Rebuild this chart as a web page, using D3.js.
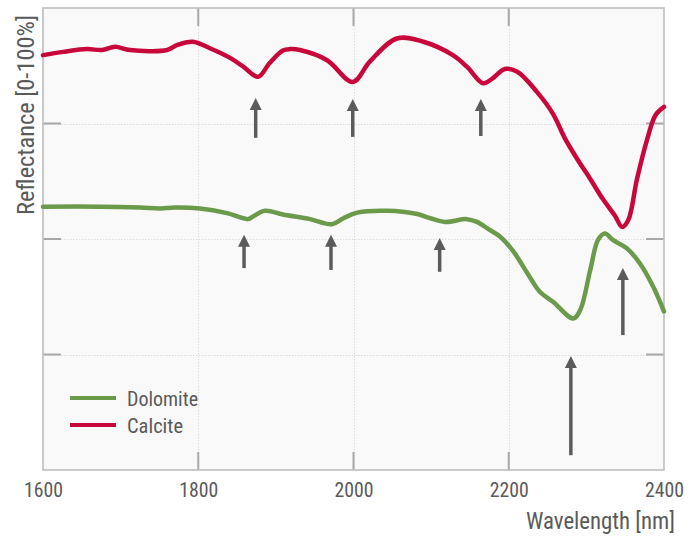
<!DOCTYPE html>
<html>
<head>
<meta charset="utf-8">
<script src="https://cdn.jsdelivr.net/npm/d3@7"></script>
<style>
  html, body { margin: 0; padding: 0; background: #fff; }
  svg text { font-family: "Roboto Condensed", "Liberation Sans Narrow", "DejaVu Sans Condensed", "Roboto", sans-serif; fill: #5a5a5a; }
</style>
</head>
<body>
<svg id="chart" width="694" height="536"></svg>
<script>
// Wavelength samples (nm) and reflectance (%) for each mineral
const calciteWl = [1600, 1626, 1657, 1676, 1693, 1712, 1760, 1773, 1793, 1815, 1841, 1858, 1877, 1892, 1909, 1918, 1931, 1966, 1999, 2021, 2056, 2090, 2128, 2146, 2167, 2178, 2195, 2211, 2236, 2257, 2272, 2289, 2305, 2321, 2337, 2346, 2354, 2365, 2378, 2389, 2400];
const calciteR  = [89.8, 90.5, 91.1, 90.9, 91.6, 90.9, 90.9, 92.0, 92.7, 91.3, 89.2, 87.3, 85.1, 88.1, 90.8, 91.1, 90.9, 88.7, 84.0, 88.4, 93.4, 92.7, 89.8, 87.3, 83.7, 84.6, 86.8, 86.2, 81.9, 77.1, 71.9, 67.1, 63.0, 58.7, 55.0, 52.6, 54.1, 62.8, 71.4, 76.8, 78.6];

const dolomiteWl = [1600, 1673, 1725, 1751, 1770, 1802, 1837, 1864, 1870, 1886, 1909, 1944, 1972, 1987, 2005, 2043, 2082, 2099, 2118, 2146, 2159, 2176, 2189, 2206, 2224, 2240, 2257, 2283, 2292, 2305, 2315, 2324, 2334, 2352, 2369, 2386, 2400];
const dolomiteR  = [57.0, 57.0, 56.8, 56.6, 56.8, 56.6, 55.6, 54.3, 54.8, 56.1, 55.3, 54.3, 53.2, 54.5, 55.7, 56.1, 55.4, 54.5, 53.7, 54.3, 53.7, 51.9, 50.5, 47.3, 42.6, 38.6, 36.4, 32.8, 34.6, 43.3, 49.8, 51.2, 49.8, 48.0, 44.7, 39.7, 34.3];

// Absorption-feature arrows: wavelength, tail and tip reflectance
const arrowWl   = [1874, 1999, 2164, 1859, 1971, 2111, 2280, 2347];
const arrowTail = [71.9, 72.1, 72.3, 43.7, 43.3, 42.9, 3.2, 29.2];
const arrowTip  = [80.5, 80.3, 80.3, 50.9, 50.9, 50.2, 24.7, 43.7];

const xTicks = [1600, 1800, 2000, 2200, 2400];
const yGrid = [25, 50, 75];

const seriesNames = ["Dolomite", "Calcite"];
const seriesColors = ["#6b9a4b", "#c8073b"];

const svg = d3.select("#chart");
const plotL = 43, plotR = 664, plotT = 8, plotB = 470;

const x = d3.scaleLinear().domain([1600, 2400]).range([plotL, plotR]);
const y = d3.scaleLinear().domain([0, 100]).range([plotB, plotT]);

// Plot background
svg.append("rect")
  .attr("x", plotL).attr("y", plotT)
  .attr("width", plotR - plotL).attr("height", plotB - plotT)
  .attr("fill", "#f9f9f9");

// Dotted grid
const grid = svg.append("g").attr("stroke", "#dcdcdc").attr("stroke-width", 1).attr("stroke-dasharray", "1.5,1.5");
grid.selectAll(".gy").data(yGrid).join("line")
  .attr("x1", plotL).attr("x2", plotR)
  .attr("y1", d => Math.round(y(d)) + 0.5).attr("y2", d => Math.round(y(d)) + 0.5);
grid.selectAll(".gx").data(xTicks.slice(1, -1)).join("line")
  .attr("y1", plotT).attr("y2", plotB)
  .attr("x1", d => Math.round(x(d)) + 0.5).attr("x2", d => Math.round(x(d)) + 0.5);

// Inner tick marks on all four sides
const tickLen = 18;
const ticks = svg.append("g").attr("stroke", "#a8a8a8").attr("stroke-width", 2);
ticks.selectAll(".tl").data(yGrid).join("line")
  .attr("x1", plotL).attr("x2", plotL + tickLen)
  .attr("y1", d => y(d)).attr("y2", d => y(d));
ticks.selectAll(".tr").data(yGrid).join("line")
  .attr("x1", plotR - tickLen).attr("x2", plotR)
  .attr("y1", d => y(d)).attr("y2", d => y(d));
ticks.selectAll(".tt").data(xTicks.slice(1, -1)).join("line")
  .attr("x1", d => x(d)).attr("x2", d => x(d))
  .attr("y1", plotT).attr("y2", plotT + tickLen);
ticks.selectAll(".tb").data(xTicks.slice(1, -1)).join("line")
  .attr("x1", d => x(d)).attr("x2", d => x(d))
  .attr("y1", plotB - tickLen).attr("y2", plotB);

// Frame
svg.append("rect")
  .attr("x", plotL).attr("y", plotT)
  .attr("width", plotR - plotL).attr("height", plotB - plotT)
  .attr("fill", "none").attr("stroke", "#bdbdbd").attr("stroke-width", 1.6);

// Bottom axis labels
const xAxis = d3.axisBottom(x).tickValues(xTicks).tickSize(0).tickPadding(12).tickFormat(d3.format("d"));
const gx = svg.append("g").attr("transform", `translate(0,${plotB})`).call(xAxis);
gx.select(".domain").remove();
gx.selectAll("text")
  .attr("font-size", 21)
  .attr("textLength", 39).attr("lengthAdjust", "spacingAndGlyphs")
  .style("fill", "#5a5a5a");

// Axis titles
svg.append("text")
  .attr("x", 675).attr("y", 529)
  .attr("text-anchor", "end")
  .attr("font-size", 23)
  .attr("textLength", 149).attr("lengthAdjust", "spacingAndGlyphs")
  .text("Wavelength [nm]");

svg.append("text")
  .attr("transform", "translate(34,115) rotate(-90)")
  .attr("text-anchor", "middle")
  .attr("font-size", 23)
  .attr("textLength", 200).attr("lengthAdjust", "spacingAndGlyphs")
  .text("Reflectance [0-100%]");

// Spectra
const line = d3.line().curve(d3.curveCatmullRom.alpha(0.5));
const series = [
  { wl: dolomiteWl, r: dolomiteR },
  { wl: calciteWl, r: calciteR }
];
series.forEach((s, i) => {
  svg.append("path")
    .attr("d", line(s.wl.map((w, k) => [x(w), y(s.r[k])])))
    .attr("fill", "none")
    .attr("stroke", seriesColors[i])
    .attr("stroke-width", 4.5)
    .attr("stroke-linejoin", "round")
    .attr("stroke-linecap", "round");
});

// Arrows marking absorption features
const arrowColor = "#5b5b5b";
const arrows = svg.append("g");
arrowWl.forEach((w, i) => {
  const ax = x(w), y0 = y(arrowTail[i]), y1 = y(arrowTip[i]);
  const headH = 12, headW = 6;
  arrows.append("line")
    .attr("x1", ax).attr("x2", ax)
    .attr("y1", y0).attr("y2", y1 + headH - 1)
    .attr("stroke", arrowColor).attr("stroke-width", 3.5);
  arrows.append("path")
    .attr("d", `M${ax},${y1} L${ax - headW},${y1 + headH} L${ax + headW},${y1 + headH} Z`)
    .attr("fill", arrowColor);
});

// Legend
const legend = svg.append("g");
const legendY = [398, 425];
seriesNames.forEach((name, i) => {
  legend.append("line")
    .attr("x1", 70).attr("x2", 116)
    .attr("y1", legendY[i]).attr("y2", legendY[i])
    .attr("stroke", seriesColors[i]).attr("stroke-width", 4);
  legend.append("text")
    .attr("x", 127).attr("y", legendY[i] + 8)
    .attr("font-size", 21)
    .attr("textLength", name === "Dolomite" ? 71 : 56).attr("lengthAdjust", "spacingAndGlyphs")
    .text(name);
});
</script>
</body>
</html>
